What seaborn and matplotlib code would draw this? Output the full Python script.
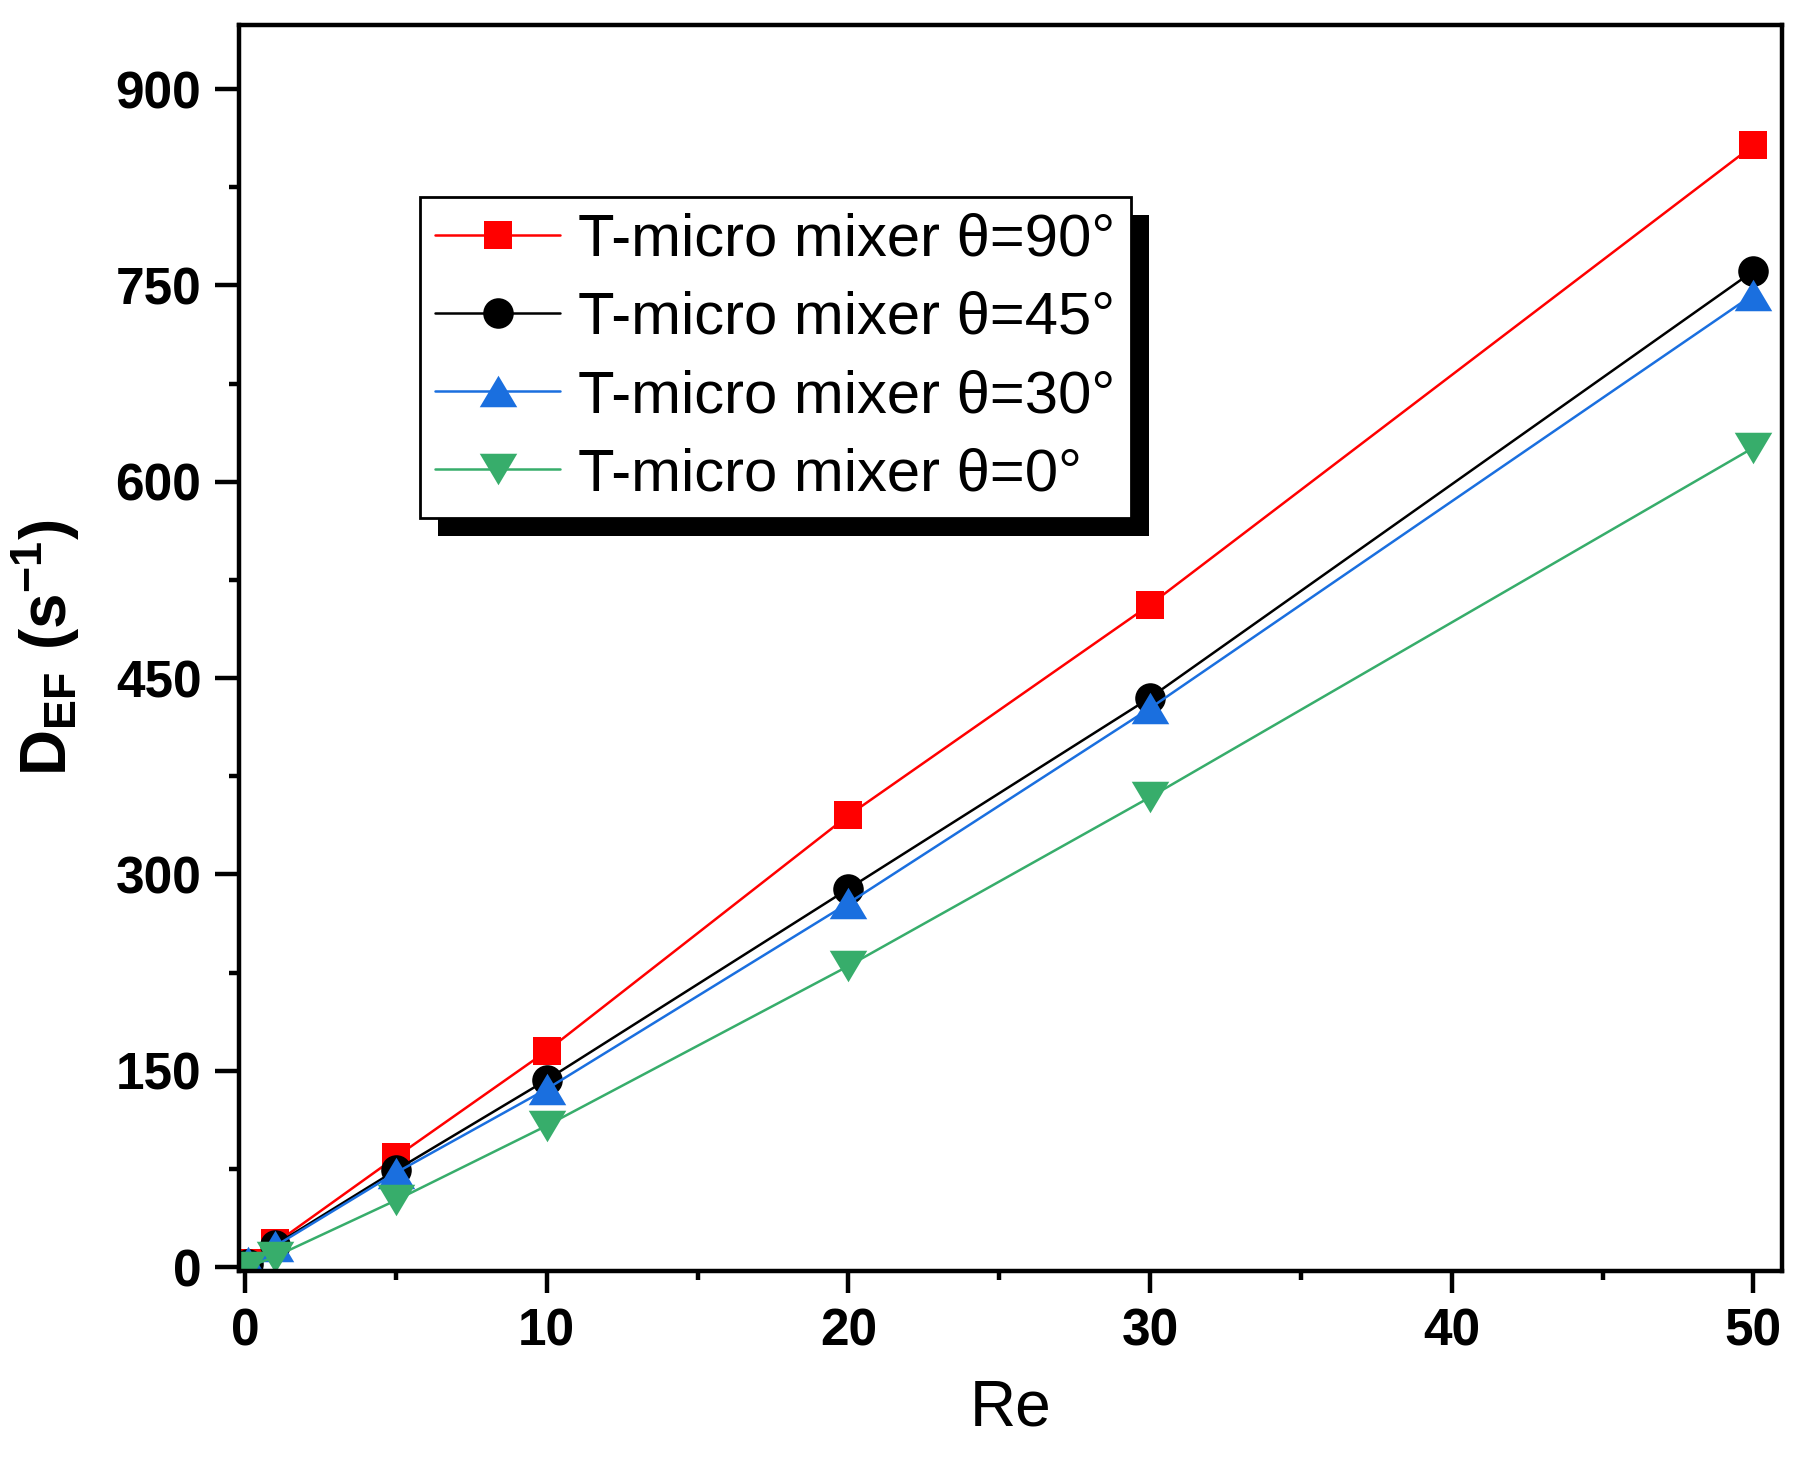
import numpy as np
import pandas as pd
import seaborn as sns
import matplotlib.pyplot as plt
from matplotlib.patches import Rectangle

# data
re_vals = [0.1, 1, 5, 10, 20, 30, 50]
d_90 = [3, 18, 84, 165, 345, 506, 857]
d_45 = [2, 17, 74, 143, 289, 435, 761]
d_30 = [4, 16, 72, 136, 278, 427, 743]
d_0 = [0, 8, 51, 108, 230, 359, 626]

labels = ['T-micro mixer θ=90°', 'T-micro mixer θ=45°',
          'T-micro mixer θ=30°', 'T-micro mixer θ=0°']
x_ticks = [0, 10, 20, 30, 40, 50]
y_ticks = [0, 150, 300, 450, 600, 750, 900]

colors = ['#FF0000', '#000000', '#1A6FDF', '#37AD6B']
tri_up = [(0, 0.84), (-1, -0.84), (1, -0.84), (0, 0.84)]
tri_dn = [(0, -0.84), (-1, 0.84), (1, 0.84), (0, -0.84)]
markers = ['s', 'o', tri_up, tri_dn]
msizes = [20, 22, 27, 27]

sns.set_theme(style='ticks')
plt.rcParams['font.family'] = ['Liberation Sans', 'DejaVu Sans']
plt.rcParams['text.color'] = 'black'
plt.rcParams['mathtext.fontset'] = 'custom'
plt.rcParams['mathtext.rm'] = 'Liberation Sans'
plt.rcParams['mathtext.bf'] = 'Liberation Sans:bold'

fig = plt.figure(figsize=(18.09, 14.76), dpi=100)
ax = fig.add_axes([0.1321, 0.1389, 0.8530, 0.8442])

series = [d_90, d_45, d_30, d_0]
for vals, lab, col, mk, ms in zip(series, labels, colors, markers, msizes):
    sns.lineplot(x=re_vals, y=vals, ax=ax, color=col, marker=mk,
                 markersize=ms, markeredgewidth=0, linewidth=1.8,
                 label=lab, errorbar=None)

ax.set_xlim(-0.2, 50.95)
ax.set_ylim(-3, 949)
ax.set_xticks(x_ticks)
ax.set_xticklabels([str(t) for t in x_ticks], fontweight='bold')
ax.set_yticks(y_ticks)
ax.set_yticklabels([str(t) for t in y_ticks], fontweight='bold')
ax.set_xticks([5, 15, 25, 35, 45], minor=True)
ax.set_yticks([75, 225, 375, 525, 675, 825], minor=True)
ax.tick_params(axis='both', which='both', direction='out', color='black',
               width=3.2, labelsize=37, labelcolor='black')
ax.tick_params(axis='y', which='major', length=17, pad=10)
ax.tick_params(axis='y', which='minor', length=7)
ax.tick_params(axis='x', which='major', length=16, pad=10)
ax.tick_params(axis='x', which='minor', length=6.5)
for sp in ax.spines.values():
    sp.set_visible(True)
    sp.set_color('black')
    sp.set_linewidth(3.2)

ax.set_xlabel('Re', fontsize=46, labelpad=16, color='black')
ax.set_ylabel(r'$\mathbf{D_{EF}\ (s^{-1})}$', fontsize=46, labelpad=24,
              color='black')

leg = ax.legend(loc='upper left', bbox_to_anchor=(0.117, 0.862),
                borderaxespad=0, fontsize=43, frameon=True, fancybox=False,
                edgecolor='black', framealpha=1, handlelength=2.1,
                handletextpad=0.3, borderpad=0.26, labelspacing=0.39)
leg.get_frame().set_linewidth(2)
leg.set_zorder(5)
for t in leg.get_texts():
    t.set_color('black')

# solid black drop shadow behind the legend box
fig.canvas.draw()
bb = leg.get_window_extent().transformed(fig.transFigure.inverted())
off_x, off_y = 18 / 1809, 18 / 1476
shadow = Rectangle((bb.x0 + off_x, bb.y0 - off_y), bb.width, bb.height,
                   transform=fig.transFigure, facecolor='black',
                   edgecolor='none', zorder=4.5, clip_on=False)
ax.add_patch(shadow)

fig.savefig('out.png', dpi=100)
